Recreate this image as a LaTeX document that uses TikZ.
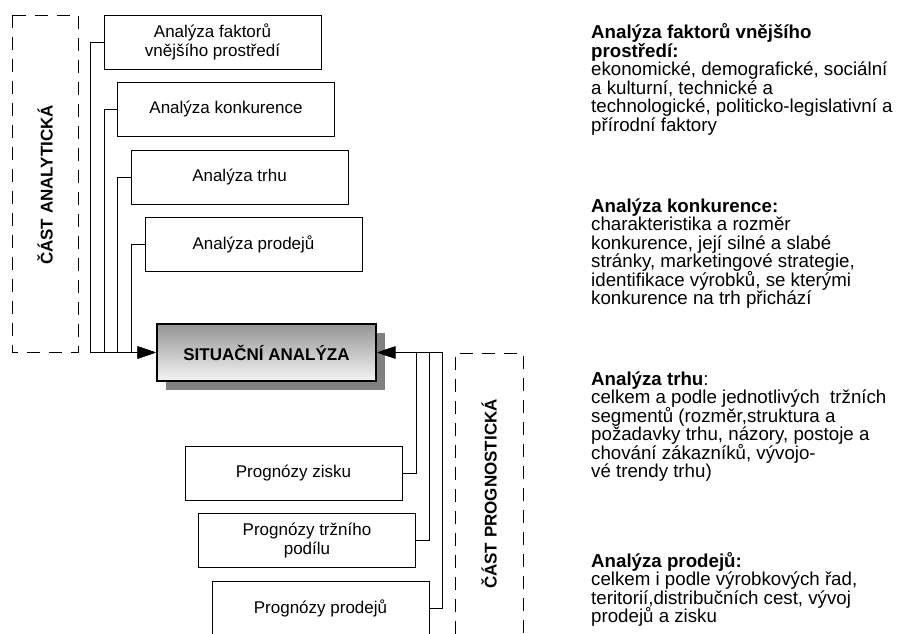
\documentclass[tikz,border=0pt]{standalone}
\usepackage{fontspec}
\setmainfont{Liberation Sans}
\usetikzlibrary{arrows.meta,shadows}
\def\boxfont{\fontsize{17}{19}\selectfont}
\def\descfont{\fontsize{18.7}{18.5}\selectfont\lineskiplimit=-50pt}

\begin{document}
\begin{tikzpicture}[x=1pt,y=-1pt,
    anbox/.style={draw,line width=0.8pt,minimum width=217pt,minimum height=54pt,inner sep=0pt,align=center,font=\boxfont},
    mainbox/.style={draw,line width=2.6pt,minimum width=219pt,minimum height=57pt,inner sep=0pt,top color=black!42,bottom color=black!4,
        font=\boxfont\bfseries,drop shadow={shadow xshift=9pt,shadow yshift=-9pt,fill=black!50,opacity=1}},
    bus/.style={line width=0.8pt,-{Triangle[length=18pt,width=12pt]}},
    partbox/.style={line width=0.8pt,dash pattern=on 13pt off 9pt},
    desc/.style={anchor=base west,align=left,inner sep=0pt,font=\descfont}]
	\useasboundingbox (0,0) rectangle (900,633);
				\draw[partbox] (12,15) rectangle (78,352);
				\draw[partbox] (455,700) -- (455,353) -- (523,353) -- (523,700);
				\node[rotate=90,font=\boxfont\bfseries] (anlabel) at (45,185) {ČÁST ANALYTICKÁ};
				\node[rotate=90,font=\boxfont\bfseries] (prlabel) at (489,494) {ČÁST PROGNOSTICKÁ};
				\node[mainbox] (situace) at (266.5,352.5) {SITUAČNÍ ANALÝZA};
				\node[anbox] (faktory) at (212.5,42) {Analýza faktorů\\vnějšího prostředí};
				\node[anbox] (konkurence) at (226,109) {Analýza konkurence};
				\node[anbox] (trh) at (239.5,177) {Analýza trhu};
				\node[anbox] (prodeje) at (253.5,244.5) {Analýza prodejů};
				\node[anbox] (zisk) at (293.5,473) {Prognózy zisku};
				\node[anbox] (podil) at (307,540.5) {Prognózy tržního\\podílu};
				\node[anbox] (prodprog) at (320.5,608) {Prognózy prodejů};
                \draw[bus] (faktory.west) -- ++(-13,0) |- (situace.west);
                \draw[bus] (konkurence.west) -- ++(-13,0) |- (situace.west);
                \draw[bus] (trh.west) -- ++(-13,0) |- (situace.west);
                \draw[bus] (prodeje.west) -- ++(-13,0) |- (situace.west);
                \draw[bus] (zisk.east) -- ++(14,0) |- (situace.east);
                \draw[bus] (podil.east) -- ++(13,0) |- (situace.east);
                \draw[bus] (prodprog.east) -- ++(13,0) |- (situace.east);
				\node[desc] (dfaktory) at (591,131) {\textbf{Analýza faktorů vnějšího}\\\textbf{prostředí:}\\ekonomické, demografické, sociální\\a kulturní, technické a\\technologické, politicko-legislativní a\\přírodní faktory};
				\node[desc] (dkonkurence) at (591,304.5) {\textbf{Analýza konkurence:}\\charakteristika a rozměr\\konkurence, její silné a slabé\\stránky, marketingové strategie,\\identifikace výrobků, se kterými\\konkurence na trh přichází};
				\node[desc] (dtrh) at (591,477.5) {\textbf{Analýza trhu}:\\celkem a podle jednotlivých\ \ tržních\\segmentů (rozměr,struktura a\\požadavky trhu, názory, postoje a\\chování zákazníků, vývojo-\\vé trendy trhu)};
				\node[desc] (dprodeje) at (591,622.5) {\textbf{Analýza prodejů:}\\celkem i podle výrobkových řad,\\teritorií,distribučních cest, vývoj\\prodejů a zisku};
\end{tikzpicture}
\end{document}
